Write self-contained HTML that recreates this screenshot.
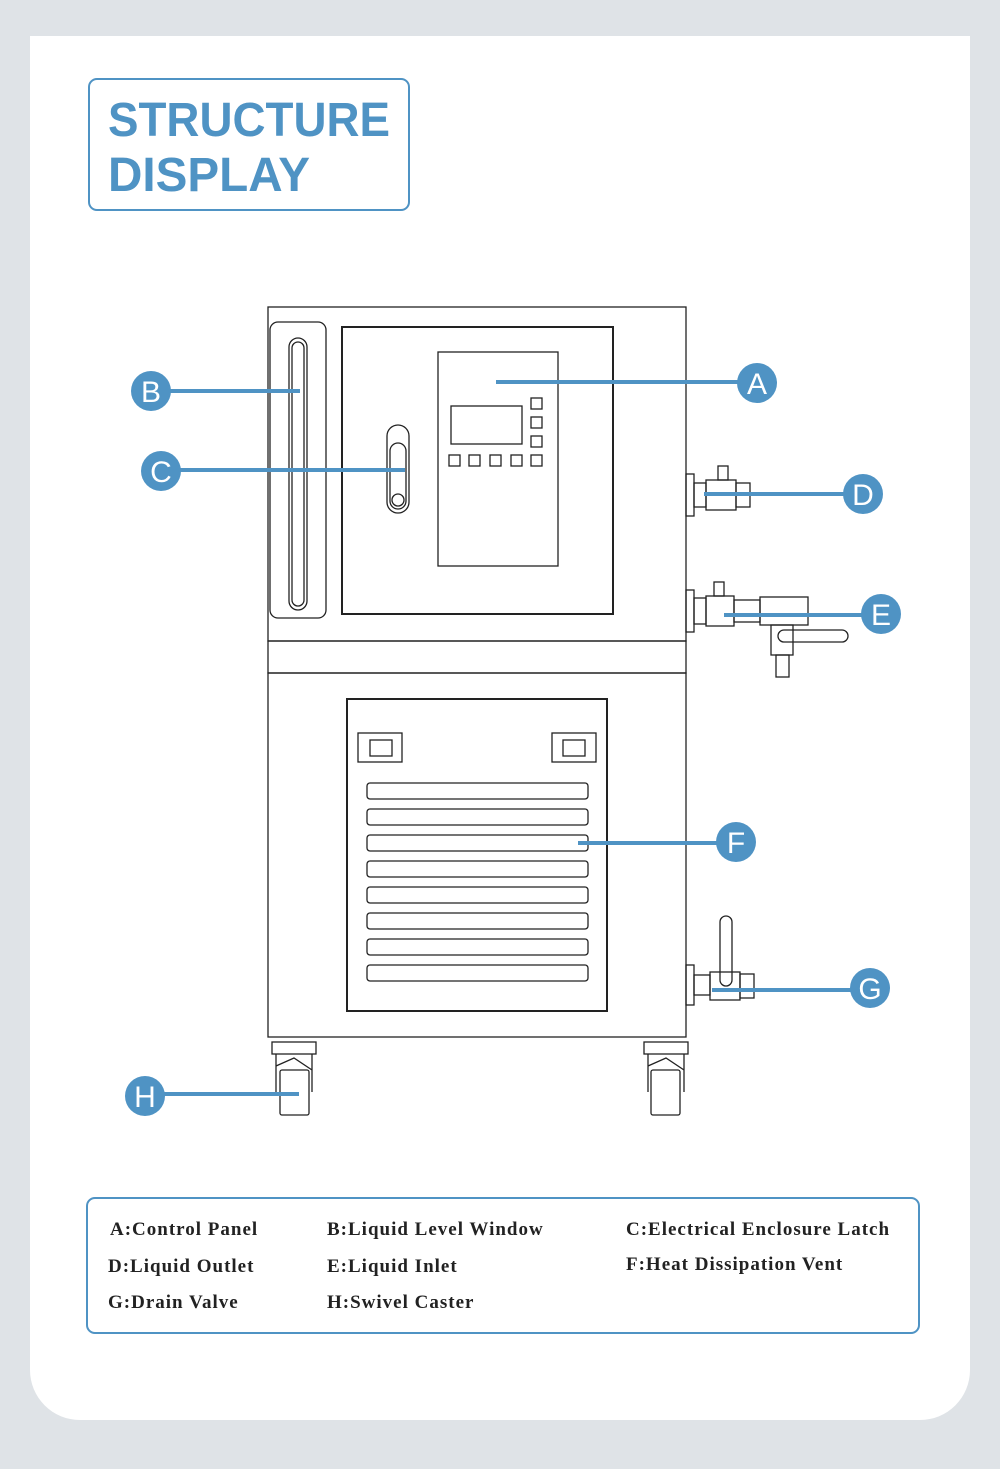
<!DOCTYPE html>
<html><head><meta charset="utf-8"><style>
html,body{margin:0;padding:0;background:#dfe3e7;}
svg{display:block}
</style></head><body>
<svg width="1000" height="1469" viewBox="0 0 1000 1469" xmlns="http://www.w3.org/2000/svg">
<rect x="0" y="0" width="1000" height="1469" fill="#dfe3e7"/>
<path d="M30 36 H970 V1370 A50 50 0 0 1 920 1420 H80 A50 50 0 0 1 30 1370 Z" fill="#fff"/>
<rect x="89" y="79" width="320" height="131" rx="8" fill="none" stroke="#4f93c4" stroke-width="2"/>
<text x="108" y="136" font-family="Liberation Sans, sans-serif" font-size="48" font-weight="bold" fill="#4f93c4" textLength="282" lengthAdjust="spacingAndGlyphs">STRUCTURE</text>
<text x="108" y="191" font-family="Liberation Sans, sans-serif" font-size="48" font-weight="bold" fill="#4f93c4" textLength="202" lengthAdjust="spacingAndGlyphs">DISPLAY</text>

<g fill="none" stroke="#222" stroke-width="1.3">
<rect x="268" y="307" width="418" height="334"/>
<rect x="270" y="322" width="56" height="296" rx="8"/>
<rect x="289" y="338" width="18" height="272" rx="9"/>
<rect x="292" y="342" width="12" height="264" rx="6"/>
<rect x="342" y="327" width="271" height="287" stroke-width="2"/>
<rect x="438" y="352" width="120" height="214"/>
<rect x="451" y="406" width="71" height="38"/>
<rect x="531" y="398" width="11" height="11"/><rect x="531" y="417" width="11" height="11"/><rect x="531" y="436" width="11" height="11"/>
<rect x="449" y="455" width="11" height="11"/><rect x="469" y="455" width="11" height="11"/><rect x="490" y="455" width="11" height="11"/><rect x="511" y="455" width="11" height="11"/><rect x="531" y="455" width="11" height="11"/>
<rect x="387" y="425" width="22" height="88" rx="11"/>
<rect x="390" y="443" width="16" height="66" rx="8"/>
<circle cx="398" cy="500" r="6"/>
<rect x="268" y="641" width="418" height="32"/>
<rect x="268" y="673" width="418" height="364"/>
<rect x="347" y="699" width="260" height="312" stroke-width="2"/>
<rect x="358" y="733" width="44" height="29"/><rect x="370" y="740" width="22" height="16"/>
<rect x="552" y="733" width="44" height="29"/><rect x="563" y="740" width="22" height="16"/>
<rect x="367" y="783" width="221" height="16" rx="3"/>
<rect x="367" y="809" width="221" height="16" rx="3"/>
<rect x="367" y="835" width="221" height="16" rx="3"/>
<rect x="367" y="861" width="221" height="16" rx="3"/>
<rect x="367" y="887" width="221" height="16" rx="3"/>
<rect x="367" y="913" width="221" height="16" rx="3"/>
<rect x="367" y="939" width="221" height="16" rx="3"/>
<rect x="367" y="965" width="221" height="16" rx="3"/>
<rect x="272" y="1042" width="44" height="12"/><path d="M276 1054 V1092 M312 1054 V1092 M276 1066 L294 1058 L312 1070"/><rect x="280" y="1070" width="29" height="45" rx="2"/>
<rect x="644" y="1042" width="44" height="12"/><path d="M648 1054 V1092 M684 1054 V1092 M648 1066 L666 1058 L684 1070"/><rect x="651" y="1070" width="29" height="45" rx="2"/>
<rect x="686" y="474" width="8" height="42"/><rect x="694" y="483" width="12" height="24"/><rect x="706" y="480" width="30" height="30"/><rect x="736" y="483" width="14" height="24"/>
<rect x="718" y="466" width="10" height="14"/>
<rect x="686" y="590" width="8" height="42"/><rect x="694" y="598" width="12" height="26"/><rect x="706" y="596" width="28" height="30"/><rect x="734" y="600" width="26" height="22"/><rect x="760" y="597" width="48" height="28"/>
<rect x="714" y="582" width="10" height="14"/>
<rect x="771" y="625" width="22" height="30"/><rect x="776" y="655" width="13" height="22"/>
<rect x="778" y="630" width="70" height="12" rx="6"/>
<rect x="686" y="965" width="8" height="40"/><rect x="694" y="975" width="16" height="20"/><rect x="710" y="972" width="30" height="28"/><rect x="740" y="974" width="14" height="24"/>
<rect x="720" y="916" width="12" height="70" rx="6"/>
</g>

<g stroke="#4f93c4" stroke-width="4" fill="none">
<line x1="496" y1="382" x2="745" y2="382"/>
<line x1="165" y1="391" x2="300" y2="391"/>
<line x1="175" y1="470" x2="405" y2="470"/>
<line x1="704" y1="494" x2="850" y2="494"/>
<line x1="724" y1="615" x2="868" y2="615"/>
<line x1="578" y1="843" x2="722" y2="843"/>
<line x1="712" y1="990" x2="858" y2="990"/>
<line x1="152" y1="1094" x2="299" y2="1094"/>
</g>
<g fill="#4f93c4" font-family="Liberation Sans, sans-serif" font-size="30" text-anchor="middle">
<circle cx="757" cy="383" r="20"/><circle cx="151" cy="391" r="20"/><circle cx="161" cy="471" r="20"/><circle cx="863" cy="494" r="20"/><circle cx="881" cy="614" r="20"/><circle cx="736" cy="842" r="20"/><circle cx="870" cy="988" r="20"/><circle cx="145" cy="1096" r="20"/>
<g fill="#fff">
<text x="757" y="394">A</text><text x="151" y="402">B</text><text x="161" y="482">C</text><text x="863" y="505">D</text><text x="881" y="625">E</text><text x="736" y="853">F</text><text x="870" y="999">G</text><text x="145" y="1107">H</text>
</g></g>

<rect x="87" y="1198" width="832" height="135" rx="8" fill="none" stroke="#4f93c4" stroke-width="2"/>
<g font-family="Liberation Serif, serif" font-size="19" font-weight="bold" fill="#222" letter-spacing="1">
<text x="110" y="1235">A:Control Panel</text>
<text x="327" y="1235">B:Liquid Level Window</text>
<text x="626" y="1235">C:Electrical Enclosure Latch</text>
<text x="108" y="1272">D:Liquid Outlet</text>
<text x="327" y="1272">E:Liquid Inlet</text>
<text x="626" y="1270">F:Heat Dissipation Vent</text>
<text x="108" y="1308">G:Drain Valve</text>
<text x="327" y="1308">H:Swivel Caster</text>
</g>
</svg>
</body></html>
